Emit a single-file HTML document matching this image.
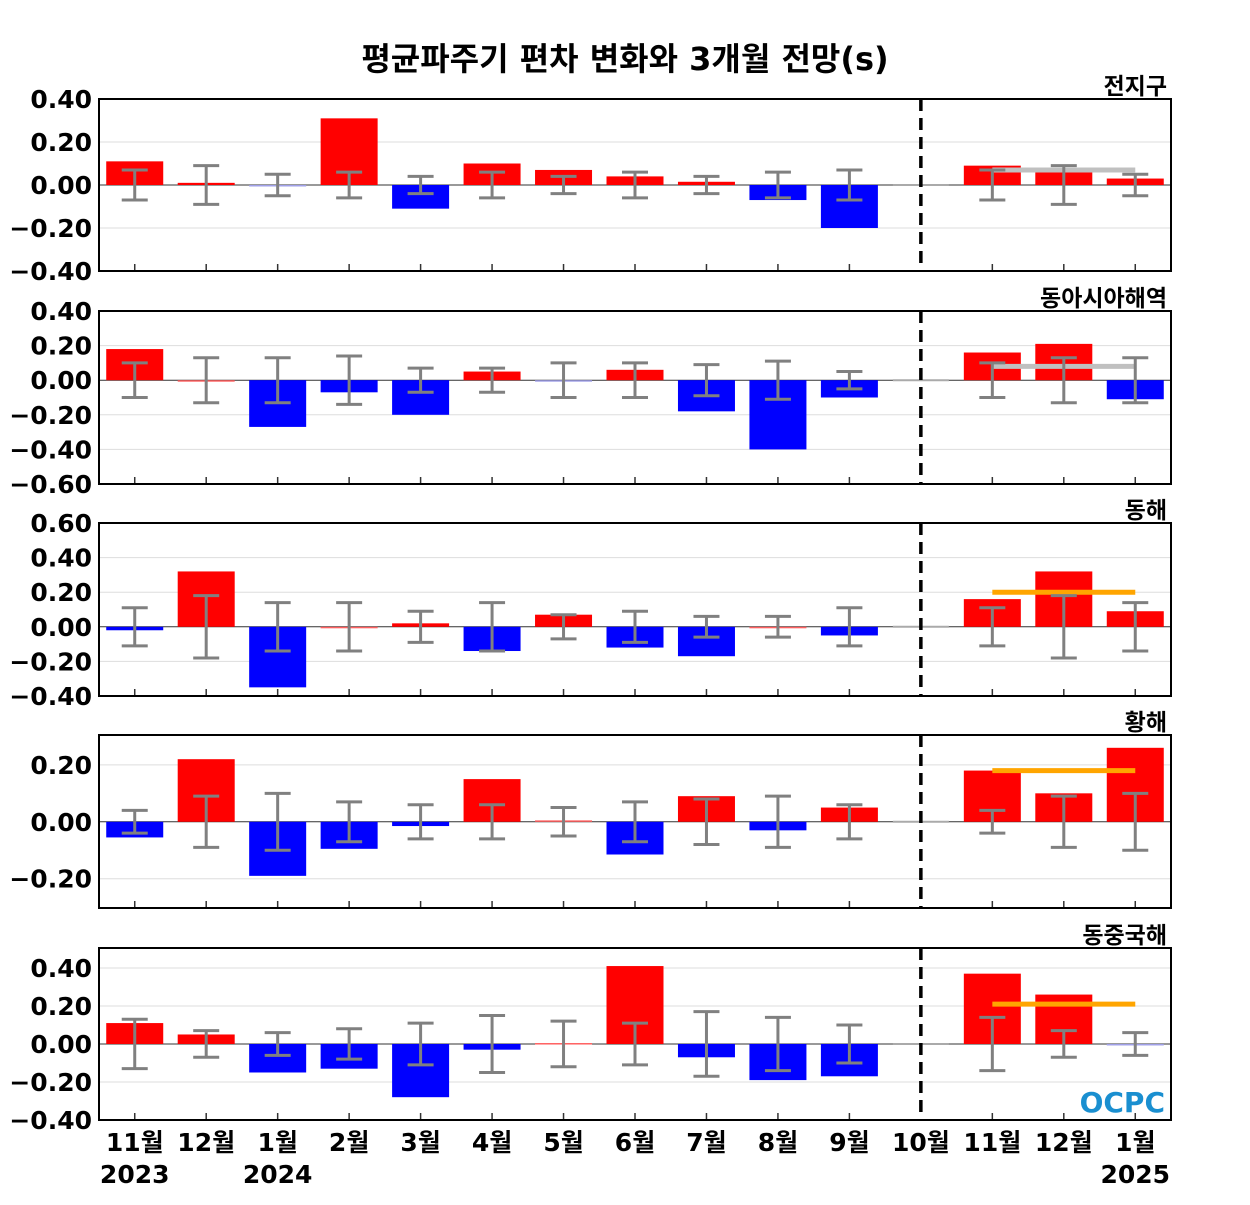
<!DOCTYPE html>
<html><head><meta charset="utf-8"><style>
body{margin:0;background:#fff;width:1250px;height:1200px;overflow:hidden}
svg text{font-family:"DejaVu Sans","Noto Sans CJK KR",sans-serif;font-weight:bold;fill:#000}
</style></head><body>
<svg id="c" width="1250" height="1200" xmlns="http://www.w3.org/2000/svg">
<text x="625" y="70" text-anchor="middle" font-size="32">평균파주기 편차 변화와 3개월 전망(s)</text>
</svg>
<script>
const categories=["11월","12월","1월","2월","3월","4월","5월","6월","7월","8월","9월","10월","11월","12월","1월"];
const panelNames=["전지구","동아시아해역","동해","황해","동중국해"];
const bars1=[0.11,0.01,-0.005,0.31,-0.11,0.10,0.07,0.04,0.015,-0.07,-0.20,null,0.09,0.07,0.03];
const err1=[0.07,0.09,0.05,0.06,0.04,0.06,0.04,0.06,0.04,0.06,0.07,null,0.07,0.09,0.05];
const fc1=0.07;
const bars2=[0.18,0,-0.27,-0.07,-0.20,0.05,-0.005,0.06,-0.18,-0.40,-0.10,null,0.16,0.21,-0.11];
const err2=[0.10,0.13,0.13,0.14,0.07,0.07,0.10,0.10,0.09,0.11,0.05,null,0.10,0.13,0.13];
const fc2=0.08;
const bars3=[-0.02,0.32,-0.35,0,0.02,-0.14,0.07,-0.12,-0.17,0,-0.05,null,0.16,0.32,0.09];
const err3=[0.11,0.18,0.14,0.14,0.09,0.14,0.07,0.09,0.06,0.06,0.11,null,0.11,0.18,0.14];
const fc3=0.20;
const bars4=[-0.055,0.22,-0.19,-0.095,-0.015,0.15,0.005,-0.115,0.09,-0.03,0.05,null,0.18,0.10,0.26];
const err4=[0.04,0.09,0.10,0.07,0.06,0.06,0.05,0.07,0.08,0.09,0.06,null,0.04,0.09,0.10];
const fc4=0.18;
const bars5=[0.11,0.05,-0.15,-0.13,-0.28,-0.03,0.005,0.41,-0.07,-0.19,-0.17,null,0.37,0.26,-0.005];
const err5=[0.13,0.07,0.06,0.08,0.11,0.15,0.12,0.11,0.17,0.14,0.10,null,0.14,0.07,0.06];
const fc5=0.21;
const ticks1=[0.4,0.2,0,-0.2,-0.4],ticks2=[0.4,0.2,0,-0.2,-0.4,-0.6],ticks3=[0.6,0.4,0.2,0,-0.2,-0.4],ticks4=[0.2,0,-0.2],ticks5=[0.4,0.2,0,-0.2,-0.4];
const panels=[
 {top:99,bot:271,min:-0.4,max:0.4,bars:bars1,err:err1,fc:fc1,fcColor:"#c0c0c0",ticks:ticks1},
 {top:311,bot:484,min:-0.6,max:0.4,bars:bars2,err:err2,fc:fc2,fcColor:"#c0c0c0",ticks:ticks2},
 {top:523,bot:696,min:-0.4,max:0.6,bars:bars3,err:err3,fc:fc3,fcColor:"#ffa500",ticks:ticks3},
 {top:735,bot:908,min:-0.303,max:0.305,bars:bars4,err:err4,fc:fc4,fcColor:"#ffa500",ticks:ticks4},
 {top:948,bot:1120,min:-0.4,max:0.505,bars:bars5,err:err5,fc:fc5,fcColor:"#ffa500",ticks:ticks5}];
const svg=document.getElementById('c');const NS="http://www.w3.org/2000/svg";
const L=99,R=1171,step=(R-L)/15;
const xc=i=>L+step*(i+0.5);
function mk(t,a,txt){const e=document.createElementNS(NS,t);for(const k in a)e.setAttribute(k,a[k]);if(txt!==undefined)e.textContent=txt;svg.appendChild(e);return e;}
panels.forEach((p,pi)=>{
 const y=v=>p.bot-(v-p.min)/(p.max-p.min)*(p.bot-p.top);
 p.ticks.forEach(t=>{
  if(Math.abs(t)>1e-9){let g=mk('line',{x1:L,x2:R,y1:y(t),y2:y(t),stroke:'#ddd','stroke-width':1});
  
  }
  let tx=mk('text',{x:92,y:y(t)+9,'text-anchor':'end','font-size':25},(t<0?'\u2212':'')+Math.abs(t).toFixed(2));
  
  
 });
 let z=mk('line',{x1:L,x2:R,y1:y(0),y2:y(0),stroke:'#333','stroke-width':1});
 
 
 p.bars.forEach((v,i)=>{
  if(v===null){let g=mk('line',{x1:xc(i)-28,x2:xc(i)+28,y1:y(0),y2:y(0),stroke:'#aaa','stroke-width':2});
   
   return;}
  const y0=y(0),y1=y(v);
  let r=mk('rect',{x:xc(i)-28.5,width:57,y:Math.min(y0,y1),height:Math.max(Math.abs(y1-y0),1.5),fill:v>=0?'#ff0000':'#0000ff'});
  if(Math.abs(v)<0.008)r.setAttribute('fill',v>=0?'#ff6060':'#a0a0e8');
  
  
 });
 let f=mk('line',{x1:xc(12),x2:xc(14),y1:y(p.fc),y2:y(p.fc),stroke:p.fcColor,'stroke-width':5});
 
 
 p.err.forEach((e,i)=>{
  if(e===null)return;const x=xc(i);
  const g=mk('path',{d:`M${x-13},${y(e)}H${x+13}M${x},${y(e)}V${y(-e)}M${x-13},${y(-e)}H${x+13}`,stroke:'#808080','stroke-width':3,fill:'none'});
  
  
  let tk=mk('line',{x1:x,x2:x,y1:p.bot,y2:p.bot-7,stroke:'#333','stroke-width':1.5});
  
  
 });
 let d=mk('line',{x1:xc(11),x2:xc(11),y1:p.top,y2:p.bot,stroke:'#000','stroke-width':3.5,'stroke-dasharray':'12,7'});
 
 
 let fr=mk('rect',{x:L,y:p.top,width:R-L,height:p.bot-p.top,fill:'none',stroke:'#000','stroke-width':2});
 
 
 let nt=mk('text',{x:1167,y:p.top-5,'text-anchor':'end','font-size':23},panelNames[pi]);
 
 
});
categories.forEach((c,i)=>{
 let t=mk('text',{x:xc(i),y:1151,'text-anchor':'middle','font-size':25},c);
 
 
});
[[0,"2023"],[2,"2024"],[14,"2025"]].forEach(([i,s])=>{
 let t=mk('text',{x:xc(i),y:1183,'text-anchor':'middle','font-size':25},s);
 
 
});
let lg=mk('text',{x:1165,y:1112,'text-anchor':'end','font-size':28,style:'fill:#1a8fd0'},'OCPC');


</script>
</body></html>
